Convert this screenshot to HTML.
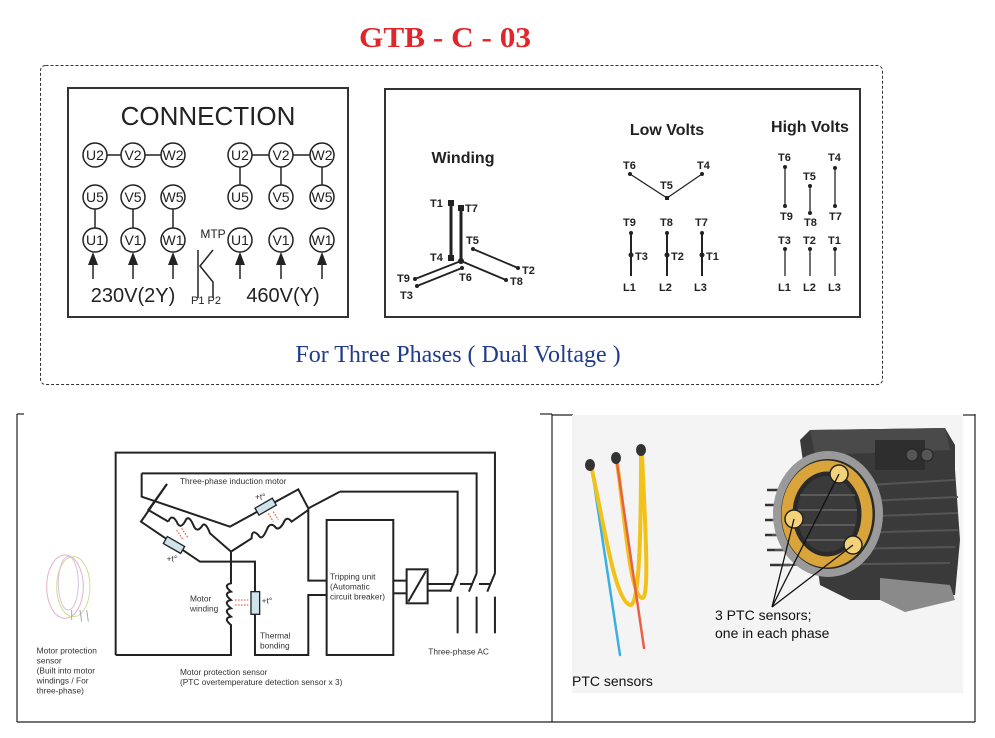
<!DOCTYPE html>
<html><head><meta charset="utf-8"><style>
html,body{margin:0;padding:0;background:#fff;}
svg{display:block;}
</style></head><body>
<svg width="995" height="738" viewBox="0 0 995 738" xmlns="http://www.w3.org/2000/svg" font-family="Liberation Sans, sans-serif">
<!-- Title -->
<text x="445" y="47" text-anchor="middle" font-family="Liberation Serif, serif" font-weight="bold" font-size="29" fill="#e0262b" textLength="172" lengthAdjust="spacingAndGlyphs">GTB - C - 03</text>
<!-- dashed box -->
<rect x="40.5" y="65.5" width="842" height="319" rx="5" fill="none" stroke="#333" stroke-dasharray="3,2" stroke-width="1"/>

<!-- CONNECTION box -->
<rect x="68" y="88" width="280" height="229" fill="none" stroke="#333" stroke-width="2"/>
<text x="208" y="125" text-anchor="middle" font-size="26" fill="#222">CONNECTION</text>
<g stroke="#222" stroke-width="1.5" fill="#fff">
 <line x1="95" y1="155" x2="173" y2="155"/>
 <line x1="95" y1="197" x2="95" y2="240"/><line x1="133" y1="197" x2="133" y2="240"/><line x1="173" y1="197" x2="173" y2="240"/>
 <line x1="240" y1="155" x2="322" y2="155"/>
 <line x1="240" y1="155" x2="240" y2="197"/><line x1="281" y1="155" x2="281" y2="197"/><line x1="322" y1="155" x2="322" y2="197"/>
 <circle cx="95" cy="155" r="12"/><circle cx="133" cy="155" r="12"/><circle cx="173" cy="155" r="12"/>
 <circle cx="95" cy="197" r="12"/><circle cx="133" cy="197" r="12"/><circle cx="173" cy="197" r="12"/>
 <circle cx="95" cy="240" r="12"/><circle cx="133" cy="240" r="12"/><circle cx="173" cy="240" r="12"/>
 <circle cx="240" cy="155" r="12"/><circle cx="281" cy="155" r="12"/><circle cx="322" cy="155" r="12"/>
 <circle cx="240" cy="197" r="12"/><circle cx="281" cy="197" r="12"/><circle cx="322" cy="197" r="12"/>
 <circle cx="240" cy="240" r="12"/><circle cx="281" cy="240" r="12"/><circle cx="322" cy="240" r="12"/>
</g>
<g font-size="14" fill="#222" text-anchor="middle">
 <text x="95" y="160">U2</text><text x="133" y="160">V2</text><text x="173" y="160">W2</text>
 <text x="95" y="202">U5</text><text x="133" y="202">V5</text><text x="173" y="202">W5</text>
 <text x="95" y="245">U1</text><text x="133" y="245">V1</text><text x="173" y="245">W1</text>
 <text x="240" y="160">U2</text><text x="281" y="160">V2</text><text x="322" y="160">W2</text>
 <text x="240" y="202">U5</text><text x="281" y="202">V5</text><text x="322" y="202">W5</text>
 <text x="240" y="245">U1</text><text x="281" y="245">V1</text><text x="322" y="245">W1</text>
</g>
<g stroke="#222" stroke-width="1.5">
 <line x1="93" y1="260" x2="93" y2="279"/><line x1="133" y1="260" x2="133" y2="279"/><line x1="173" y1="260" x2="173" y2="279"/>
 <line x1="240" y1="260" x2="240" y2="279"/><line x1="281" y1="260" x2="281" y2="279"/><line x1="322" y1="260" x2="322" y2="279"/>
 <polyline points="198,250 198,298" fill="none"/>
 <polyline points="213,250 200,266 213,282 213,298" fill="none"/>
</g>
<g fill="#222">
 <polygon points="93,252 88,265 98,265"/><polygon points="133,252 128,265 138,265"/><polygon points="173,252 168,265 178,265"/>
 <polygon points="240,252 235,265 245,265"/><polygon points="281,252 276,265 286,265"/><polygon points="322,252 317,265 327,265"/>
</g>
<text x="213" y="238" text-anchor="middle" font-size="12" fill="#222">MTP</text>
<text x="206" y="304" text-anchor="middle" font-size="11" fill="#222">P1 P2</text>
<text x="133" y="302" text-anchor="middle" font-size="20" fill="#222">230V(2Y)</text>
<text x="283" y="302" text-anchor="middle" font-size="20" fill="#222">460V(Y)</text>

<!-- Winding box -->
<rect x="385" y="89" width="475" height="228" fill="none" stroke="#333" stroke-width="2"/>
<g font-weight="bold" fill="#222" text-anchor="middle">
 <text x="463" y="163" font-size="16">Winding</text>
 <text x="667" y="135" font-size="16">Low Volts</text>
 <text x="810" y="132" font-size="16">High Volts</text>
</g>
<g stroke="#222" fill="none">
 <line x1="451" y1="203" x2="451" y2="258" stroke-width="3"/>
 <line x1="461" y1="207" x2="461" y2="261" stroke-width="3"/>
 <line x1="461" y1="261" x2="415" y2="279" stroke-width="1.8"/>
 <line x1="462" y1="268" x2="417" y2="286" stroke-width="1.8"/>
 <line x1="461" y1="261" x2="506" y2="280" stroke-width="1.8"/>
 <line x1="473" y1="249" x2="518" y2="268" stroke-width="1.8"/>
 <polyline points="630,174 667,198 702,174" stroke-width="1.2"/>
 <line x1="631" y1="233" x2="631" y2="276" stroke-width="2"/>
 <line x1="667" y1="233" x2="667" y2="276" stroke-width="2"/>
 <line x1="702" y1="233" x2="702" y2="276" stroke-width="2"/>
 <line x1="785" y1="167" x2="785" y2="206" stroke-width="1.3"/>
 <line x1="810" y1="186" x2="810" y2="213" stroke-width="1.3"/>
 <line x1="835" y1="168" x2="835" y2="206" stroke-width="1.3"/>
 <line x1="785" y1="249" x2="785" y2="276" stroke-width="1.3"/>
 <line x1="810" y1="249" x2="810" y2="276" stroke-width="1.3"/>
 <line x1="835" y1="249" x2="835" y2="276" stroke-width="1.3"/>
</g>
<g fill="#222">
 <rect x="448" y="200" width="6" height="6"/><rect x="458" y="205" width="6" height="6"/><rect x="448" y="255" width="6" height="6"/>
 <circle cx="461" cy="261" r="3"/><circle cx="462" cy="268" r="2"/><circle cx="415" cy="279" r="2"/><circle cx="417" cy="286" r="2"/>
 <circle cx="506" cy="280" r="2"/><circle cx="473" cy="249" r="2"/><circle cx="518" cy="268" r="2"/>
 <circle cx="630" cy="174" r="2"/><circle cx="702" cy="174" r="2"/><rect x="665" y="196" width="4" height="4"/>
 <circle cx="631" cy="233" r="2"/><circle cx="667" cy="233" r="2"/><circle cx="702" cy="233" r="2"/>
 <circle cx="631" cy="255" r="2.5"/><circle cx="667" cy="255" r="2.5"/><circle cx="702" cy="255" r="2.5"/>
 <circle cx="785" cy="167" r="2"/><circle cx="785" cy="206" r="2"/><circle cx="810" cy="186" r="2"/><circle cx="810" cy="213" r="2"/>
 <circle cx="835" cy="168" r="2"/><circle cx="835" cy="206" r="2"/>
 <circle cx="785" cy="249" r="2"/><circle cx="810" cy="249" r="2"/><circle cx="835" cy="249" r="2"/>
</g>
<g font-weight="bold" font-size="11" fill="#222">
 <text x="430" y="207">T1</text><text x="465" y="212">T7</text><text x="430" y="261">T4</text><text x="466" y="244">T5</text>
 <text x="459" y="281">T6</text><text x="397" y="282">T9</text><text x="400" y="299">T3</text><text x="510" y="285">T8</text><text x="522" y="274">T2</text>
 <text x="623" y="169">T6</text><text x="697" y="169">T4</text><text x="660" y="189">T5</text>
 <text x="623" y="226">T9</text><text x="660" y="226">T8</text><text x="695" y="226">T7</text>
 <text x="635" y="260">T3</text><text x="671" y="260">T2</text><text x="706" y="260">T1</text>
 <text x="623" y="291">L1</text><text x="659" y="291">L2</text><text x="694" y="291">L3</text>
 <text x="778" y="161">T6</text><text x="828" y="161">T4</text><text x="803" y="180">T5</text>
 <text x="780" y="220">T9</text><text x="804" y="226">T8</text><text x="829" y="220">T7</text>
 <text x="778" y="244">T3</text><text x="803" y="244">T2</text><text x="828" y="244">T1</text>
 <text x="778" y="291">L1</text><text x="803" y="291">L2</text><text x="828" y="291">L3</text>
</g>
<text x="458" y="362" text-anchor="middle" font-family="Liberation Serif, serif" font-size="24" fill="#1f3b8c">For Three Phases ( Dual Voltage )</text>

<!-- bottom panels -->
<g stroke="#222" stroke-width="1.2" fill="none">
 <line x1="17" y1="414" x2="17" y2="722"/><line x1="552" y1="414" x2="552" y2="722"/><line x1="975" y1="414" x2="975" y2="722"/>
 <line x1="17" y1="722" x2="975" y2="722"/>
 <line x1="17" y1="414" x2="24" y2="414"/><line x1="540" y1="414" x2="552" y2="414"/>
 <line x1="552" y1="415" x2="573" y2="415"/><line x1="963" y1="415" x2="975" y2="415"/>
</g>

<!-- circuit in zoom coords -->
<g transform="translate(15,410) scale(0.3333)">
 <g stroke="#222" stroke-width="6" fill="none">
  <polyline points="302,735 302,128 1440,128 1440,490"/>
  <polyline points="380,190 1385,190 1385,490"/>
  <polyline points="975,245 1328,245 1328,490"/>
  <polyline points="880,295 975,245"/>
  <polyline points="380,190 380,260 645,350 850,238 880,295 880,512 935,512"/>
  <polyline points="456,222 378,335 555,455 720,455 720,735 880,735 880,555 935,555"/>
  <polyline points="456,222 400,300 460,335"/>
  <path d="M460,335 q10,-25 25,0 q10,25 25,0 q10,-25 25,10 q10,25 25,5 q10,-20 25,20 L648,425"/>
  <path d="M648,425 L710,385 q0,-30 20,-10 q10,20 25,-15 q10,-25 25,-10 q10,15 25,-10 q10,-25 25,-5 L880,300"/>
  <path d="M648,425 L648,520 q-25,5 0,25 q-25,5 0,25 q-25,5 0,25 q-25,5 0,25 q-25,5 0,25 L648,735 L302,735"/>
  <rect x="935" y="330" width="200" height="405"/>
  <polyline points="1135,512 1175,512"/><polyline points="1135,550 1175,550"/>
  <rect x="1175" y="478" width="63" height="102"/>
  <line x1="1180" y1="575" x2="1233" y2="483"/>
  <polyline points="1238,522 1318,522"/><polyline points="1238,542 1310,542"/>
  <line x1="1328" y1="490" x2="1305" y2="545"/><line x1="1385" y1="490" x2="1362" y2="545"/><line x1="1440" y1="490" x2="1417" y2="545"/>
  <line x1="1335" y1="522" x2="1372" y2="522"/><line x1="1392" y1="522" x2="1428" y2="522"/>
  <line x1="1328" y1="560" x2="1328" y2="670"/><line x1="1385" y1="560" x2="1385" y2="670"/><line x1="1440" y1="560" x2="1440" y2="670"/>
 </g>
 <g fill="#cfe3ea" stroke="#222" stroke-width="4">
  <rect x="-30" y="-12" width="60" height="24" transform="translate(477,405) rotate(30)"/>
  <rect x="-30" y="-12" width="60" height="24" transform="translate(752,290) rotate(-30)"/>
  <rect x="708" y="545" width="26" height="68"/>
 </g>
 <g stroke="#e05030" stroke-width="3" stroke-dasharray="5,4" fill="none">
  <path d="M485,360 l20,30 M500,355 l20,30"/><path d="M760,310 l15,25 M775,305 l15,25"/><path d="M660,570 h40 M660,585 h40"/>
 </g>
 <g font-size="25" fill="#333">
  <text x="495" y="222">Three-phase induction motor</text>
  <text x="720" y="268">+t°</text><text x="455" y="455">+t°</text><text x="740" y="580">+t°</text>
  <text x="525" y="575">Motor</text><text x="525" y="605">winding</text>
  <text x="735" y="685">Thermal</text><text x="735" y="715">bonding</text>
  <text x="945" y="508">Tripping unit</text><text x="945" y="538">(Automatic</text><text x="945" y="568">circuit breaker)</text>
  <text x="1240" y="733">Three-phase AC</text>
  <text x="495" y="795">Motor protection sensor</text>
  <text x="495" y="825">(PTC overtemperature detection sensor x 3)</text>
  <text x="65" y="730">Motor protection</text><text x="65" y="760">sensor</text><text x="65" y="790">(Built into motor</text>
  <text x="65" y="820">windings / For</text><text x="65" y="850">three-phase)</text>
 </g>
 <g fill="none" stroke-width="3">
  <ellipse cx="150" cy="530" rx="55" ry="95" stroke="#e7b0c8"/>
  <ellipse cx="175" cy="530" rx="50" ry="90" stroke="#cde08a"/>
  <ellipse cx="160" cy="520" rx="30" ry="80" stroke="#d8c0e0"/>
  <path d="M170,600 L170,630 M195,600 L200,635 M215,600 L220,635" stroke="#9ab"/>
 </g>
</g>

<!-- right image -->
<rect x="572" y="415" width="391" height="278" fill="#f4f4f4"/>
<g fill="none" stroke-linecap="round">
 <path d="M592,470 L620,655" stroke="#3ab0e0" stroke-width="2.5"/>
 <path d="M592,470 C605,530 615,600 630,605 C640,608 641,520 641,455" stroke="#f2c21a" stroke-width="4"/>
 <path d="M617,462 C625,520 630,595 642,598 C650,600 645,520 642,455" stroke="#f2c21a" stroke-width="4"/>
 <path d="M617,463 L644,648" stroke="#e8604a" stroke-width="2.5"/>
</g>
<g fill="#333"><ellipse cx="590" cy="465" rx="5" ry="6"/><ellipse cx="616" cy="458" rx="5" ry="6"/><ellipse cx="641" cy="450" rx="5" ry="6"/></g>
<text x="572" y="686" font-size="14" fill="#111">PTC sensors</text>

<!-- motor -->
<g>
 <path d="M800,440 L810,430 L945,428 L955,445 L955,470 L960,540 L955,595 L900,600 L850,600 L820,585 Z" fill="#3a3a3a"/>
 <path d="M810,430 L945,428 L950,450 L815,455 Z" fill="#4a4a4a"/>
 <rect x="875" y="440" width="50" height="30" fill="#2e2e2e"/>
 <circle cx="912" cy="455" r="6" fill="#555" stroke="#222"/><circle cx="927" cy="455" r="6" fill="#555" stroke="#222"/>
 <g stroke="#333" stroke-width="2.5">
  <line x1="767" y1="490" x2="790" y2="490"/><line x1="765" y1="505" x2="790" y2="505"/><line x1="765" y1="520" x2="790" y2="520"/>
  <line x1="765" y1="535" x2="790" y2="535"/><line x1="767" y1="550" x2="790" y2="550"/><line x1="770" y1="565" x2="790" y2="565"/>
 </g>
 <g stroke="#555" stroke-width="2">
  <line x1="780" y1="490" x2="955" y2="480"/><line x1="775" y1="505" x2="958" y2="497"/><line x1="772" y1="520" x2="958" y2="513"/>
  <line x1="772" y1="535" x2="958" y2="530"/><line x1="775" y1="550" x2="955" y2="547"/><line x1="780" y1="565" x2="950" y2="563"/>
 </g>
 <path d="M880,578 L950,585 L955,600 L905,612 L880,600 Z" fill="#8a8a8a"/>
 <ellipse cx="828" cy="514" rx="55" ry="63" fill="#9a9a9a"/>
 <ellipse cx="828" cy="514" rx="47" ry="55" fill="#2a2a2a"/>
 <ellipse cx="827" cy="514" rx="40" ry="48" fill="none" stroke="#d9a53a" stroke-width="11"/>
 <ellipse cx="827" cy="514" rx="30" ry="38" fill="#3a3a3a"/>
 <g stroke="#666" stroke-width="1.5"><line x1="800" y1="495" x2="855" y2="495"/><line x1="798" y1="510" x2="857" y2="510"/><line x1="800" y1="525" x2="855" y2="525"/><line x1="805" y1="540" x2="850" y2="540"/></g>
 <g fill="#f3d27a" stroke="#222" stroke-width="1.5">
  <circle cx="839" cy="474" r="9"/><circle cx="794" cy="519" r="9"/><circle cx="853" cy="545" r="9"/>
 </g>
 <g stroke="#111" stroke-width="1.3"><line x1="772" y1="607" x2="839" y2="474"/><line x1="772" y1="607" x2="794" y2="519"/><line x1="772" y1="607" x2="853" y2="545"/></g>
</g>
<text x="715" y="620" font-size="14" fill="#111">3 PTC sensors;</text>
<text x="715" y="638" font-size="14" fill="#111">one in each phase</text>
</svg>
</body></html>
